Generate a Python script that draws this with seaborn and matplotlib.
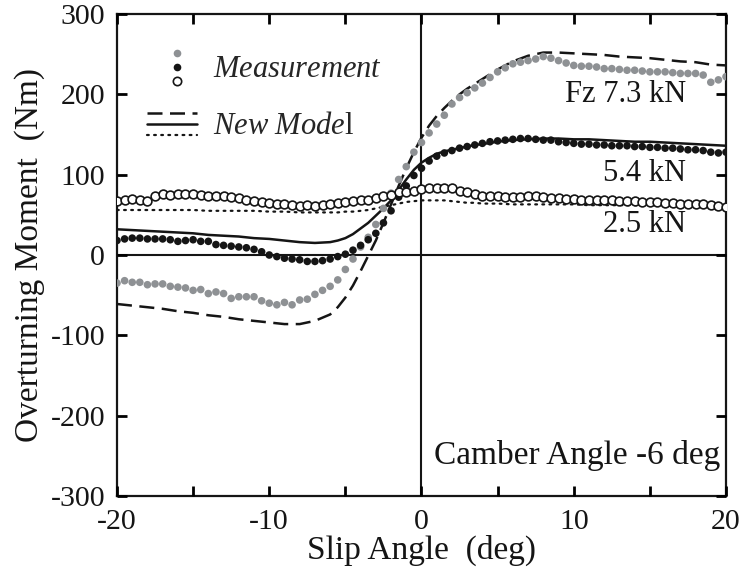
import numpy as np
import pandas as pd
import matplotlib
matplotlib.use("Agg")
import matplotlib.pyplot as plt
import seaborn as sns
from matplotlib.lines import Line2D
from matplotlib.legend_handler import HandlerBase

# ---------------- data ----------------
slip = np.arange(-20, 20.01, 0.5)

meas_73 = [-35, -32, -34, -34, -37, -36, -36, -39, -40, -41,
           -44, -43, -48, -46, -48, -54, -52, -52, -52, -57,
           -60, -62, -59, -62, -56, -55, -49, -44, -39, -31,
           -18, -5, 10, 22, 38, 58, 77, 94, 110, 128,
           140, 152, 163, 174, 188, 196, 202, 208, 214, 221,
           228, 233, 238, 240, 242, 244, 247, 245, 242, 239,
           236, 235, 235, 234, 232, 232, 231, 230, 230, 229,
           228, 228, 228, 227, 226, 226, 226, 224, 215, 218,
           222]

meas_54 = [18, 20, 21, 21, 20, 20, 20, 19, 17, 18,
           19, 17, 17, 13, 12, 11, 10, 9, 7, 4,
           0, -2, -4, -5, -6, -8, -8, -7, -5, -2,
           1, 6, 12, 19, 27, 40, 55, 72, 86, 99,
           108, 117, 123, 127, 130, 133, 135, 137, 139, 141,
           142, 143, 144, 145, 145, 144, 143, 143, 141, 140,
           139, 138, 138, 137, 137, 136, 136, 136, 135, 135,
           134, 134, 133, 133, 132, 131, 131, 130, 128, 127,
           128]

meas_25 = [67, 69, 70, 69, 67, 73, 76, 75, 76, 76,
           76, 75, 74, 73, 73, 72, 71, 69, 67, 66,
           65, 63, 63, 62, 61, 62, 61, 62, 64, 65,
           66, 67, 68, 69, 71, 73, 75, 78, 79, 80,
           82, 83, 84, 84, 83, 80, 78, 76, 74, 73,
           73, 72, 72, 72, 73, 73, 72, 71, 71, 70,
           70, 69, 69, 69, 68, 68, 67, 67, 67, 66,
           66, 66, 65, 65, 64, 64, 63, 63, 62, 61,
           60]

model_slip = [-20, -19, -18, -17, -16, -15, -14, -13, -12, -11, -10, -9, -8, -7, -6,
              -5.5, -5, -4.5, -4, -3.5, -3, -2.5, -2, -1.5, -1, -0.5, 0, 0.5, 1, 1.5,
              2, 2.5, 3, 3.5, 4,
              5, 6, 7, 8, 9, 10, 11, 12, 13, 14, 15, 16, 17, 18, 19, 20]

model_73 = [-61, -63, -65, -67, -70, -72, -75, -77, -80, -82, -84, -86, -86, -82, -74,
            -65, -53, -38, -20, -1, 18, 40, 63, 86, 108, 128, 146, 161, 173, 183,
            192, 200, 207, 213, 219,
            231, 241, 248, 252, 252, 251, 250, 249, 247, 246, 245, 243, 241, 240, 237, 236]

model_54 = [32, 31, 30, 29, 28, 27, 25, 24, 23, 21, 20, 18, 16, 15, 16,
            18, 21, 26, 33, 40, 49, 58, 68, 81, 94, 106, 115, 121, 126, 129,
            131, 133, 135, 137, 138,
            141, 143, 144, 145, 145, 144, 144, 143, 142, 141, 141, 140, 139, 138, 137, 136]

model_25 = [56, 56, 56, 56, 56, 56, 55, 55, 55, 55, 54, 54, 53, 53, 53,
            53, 54, 54, 55, 56, 58, 60, 62, 64, 66, 67, 68, 68, 68, 68,
            67, 66, 65, 65, 64,
            64, 63, 63, 63, 63, 63, 62, 62, 62, 62, 62, 61, 61, 61, 60, 60]

x_ticks = [-20, -15, -10, -5, 0, 5, 10, 15, 20]
x_tick_labels = ['-20', '', '-10', '', '0', '', '10', '', '20']
y_ticks = [-300, -200, -100, 0, 100, 200, 300]

# ---------------- style ----------------
sns.set_theme(style="ticks")
plt.rcParams['font.family'] = ['Liberation Serif', 'DejaVu Serif']
plt.rcParams['mathtext.fontset'] = 'custom'
plt.rcParams['mathtext.rm'] = 'Liberation Serif'
plt.rcParams['mathtext.it'] = 'Liberation Serif:italic'
plt.rcParams['axes.unicode_minus'] = False
plt.rcParams['axes.axisbelow'] = False

GRAY = '#8e9194'
BLACK = '#151515'
TICK_FS = 21.5
LABEL_FS = 24
ANN_FS = 22

fig = plt.figure(figsize=(7.47, 5.76), dpi=100)
ax = fig.add_axes([0.1566, 0.1389, 0.8153, 0.8368])

meas_df = pd.DataFrame({'slip': slip, 'm73': meas_73, 'm54': meas_54, 'm25': meas_25})
model_df = pd.DataFrame({'slip': model_slip, 'f73': model_73, 'f54': model_54, 'f25': model_25})

# zero lines
ax.axhline(0, color=BLACK, lw=1.5, zorder=1)
ax.axvline(0, color=BLACK, lw=1.5, zorder=1)

# models
sns.lineplot(data=model_df, x='slip', y='f73', ax=ax, color=BLACK, lw=1.8,
             linestyle=(0, (6, 3)), zorder=3)
sns.lineplot(data=model_df, x='slip', y='f54', ax=ax, color=BLACK, lw=1.8, zorder=3)
sns.lineplot(data=model_df, x='slip', y='f25', ax=ax, color=BLACK, lw=1.6,
             linestyle=(0, (0.8, 2.4)), zorder=3)
ax.lines[-1].set_dash_capstyle('round')

# measurements
sns.scatterplot(data=meas_df, x='slip', y='m73', ax=ax, color=GRAY, s=30,
                edgecolor='none', zorder=4)
sns.scatterplot(data=meas_df, x='slip', y='m54', ax=ax, color=BLACK, s=30,
                edgecolor='none', zorder=4)
sns.scatterplot(data=meas_df, x='slip', y='m25', ax=ax, facecolor='white', s=40,
                edgecolor=BLACK, linewidth=1.2, zorder=4)

# axes
ax.set_xlim(-20, 20)
ax.set_ylim(-300, 300)
ax.set_xticks(x_ticks)
ax.set_xticklabels(x_tick_labels)
ax.set_yticks(y_ticks)
ax.tick_params(axis='x', which='major', direction='in', length=7, width=2,
               bottom=True, top=True, labelsize=TICK_FS, color='black',
               labelcolor=BLACK, pad=9.5)
ax.tick_params(axis='y', which='major', direction='in', length=7, width=2,
               left=True, right=True, labelsize=TICK_FS, color='black',
               labelcolor=BLACK, pad=8.5)
for s in ax.spines.values():
    s.set_linewidth(1.6)
    s.set_color(BLACK)
ax.set_xlabel('Slip Angle  (deg)', fontsize=LABEL_FS, color=BLACK, labelpad=0)
ax.set_ylabel('Overturning Moment  (Nm)', fontsize=LABEL_FS, color=BLACK, labelpad=4)

# annotations
ax.text(17.4, 190, 'Fz 7.3 kN', ha='right', va='baseline', fontsize=ANN_FS, color=BLACK)
ax.text(17.4, 92, '5.4 kN', ha='right', va='baseline', fontsize=ANN_FS, color=BLACK)
ax.text(17.4, 29, '2.5 kN', ha='right', va='baseline', fontsize=ANN_FS, color=BLACK)
ax.text(19.6, -260, 'Camber Angle -6 deg', ha='right', va='baseline', fontsize=LABEL_FS,
        color=BLACK)


# custom legend with vertically stacked handles
class Stack:
    def __init__(self, handles, gap):
        self.handles = handles
        self.gap = gap


class StackHandler(HandlerBase):
    def create_artists(self, legend, orig_handle, xdescent, ydescent, width, height,
                       fontsize, trans):
        arts = []
        n = len(orig_handle.handles)
        cy = height / 2 - ydescent
        step = orig_handle.gap * fontsize
        for i, h in enumerate(orig_handle.handles):
            y = cy + (n - 1) / 2 * step - i * step
            if h.get_marker() not in (None, 'None', ''):
                a = Line2D([width * 0.6 - xdescent], [y], linestyle='none',
                           marker=h.get_marker(), markersize=h.get_markersize(),
                           markerfacecolor=h.get_markerfacecolor(),
                           markeredgecolor=h.get_markeredgecolor(),
                           markeredgewidth=h.get_markeredgewidth())
            else:
                a = Line2D([-xdescent, width - xdescent], [y, y], color=h.get_color(),
                           lw=h.get_linewidth(), linestyle=h.get_linestyle())
                if h._unscaled_dash_pattern[1]:
                    a.set_dashes(h._unscaled_dash_pattern[1])
                a.set_dash_capstyle(h.get_dash_capstyle())
            a.set_transform(trans)
            arts.append(a)
        return arts


mk = [Line2D([], [], ls='none', marker='o', ms=5.5, mfc=GRAY, mec='none'),
      Line2D([], [], ls='none', marker='o', ms=5.5, mfc=BLACK, mec='none'),
      Line2D([], [], ls='none', marker='o', ms=6, mfc='white', mec=BLACK, mew=1.2)]
ln = [Line2D([], [], color=BLACK, lw=1.8, linestyle=(0, (6, 3))),
      Line2D([], [], color=BLACK, lw=1.8),
      Line2D([], [], color=BLACK, lw=1.6, linestyle=(0, (0.8, 2.4)), dash_capstyle='round')]

h1 = Stack(mk, 0.45)
h2 = Stack(ln, 0.37)
leg = ax.legend([h1, h2], [r'$\mathit{Measurement}$', r'$\mathit{New\ Mode}\mathrm{l}$'],
                handler_map={Stack: StackHandler()}, loc='upper left',
                bbox_to_anchor=(0.049, 0.927), frameon=False, fontsize=ANN_FS,
                handlelength=1.65, handleheight=1.4, labelspacing=0.72,
                handletextpad=0.5, borderpad=0, borderaxespad=0)

fig.savefig('out.png', dpi=100)
